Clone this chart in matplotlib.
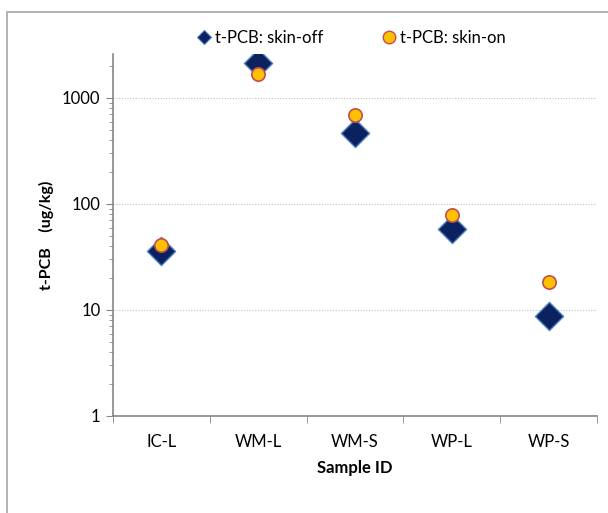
import matplotlib
matplotlib.use("Agg")
import matplotlib.pyplot as plt
from matplotlib.patches import Rectangle
from matplotlib.lines import Line2D
from matplotlib.ticker import LogLocator, NullFormatter, FixedLocator

categories = ["IC-L", "WM-L", "WM-S", "WP-L", "WP-S"]
skin_off = [36, 2140, 468, 58, 8.7]
skin_on = [41, 1700, 690, 78, 18.5]
ytick_vals = [1, 10, 100, 1000]
ytick_labels = ["1", "10", "100", "1000"]

plt.rcParams['font.family'] = ['Lato', 'DejaVu Sans']

fig = plt.figure(figsize=(6.08, 5.13), dpi=100)
fig.patches.append(Rectangle((7/608, -0.1), 1.2, 1 - 12/513 + 0.1, transform=fig.transFigure,
                             fill=False, edgecolor="#a6a6a6", linewidth=1.2))
ax = fig.add_axes([113/608, 1 - 416/513, (597 - 113)/608, (416 - 54)/513])

off_face, off_edge = "#0b2160", "#4a7ebb"
on_face, on_edge = "#ffc000", "#c0504d"

x = list(range(len(categories)))
ax.scatter(x, skin_off, marker="D", s=205, facecolor=off_face, edgecolor=off_edge,
           linewidth=1.0, zorder=3)
ax.scatter(x, skin_on, marker="o", s=92, facecolor=on_face, edgecolor=on_edge,
           linewidth=1.2, zorder=4)

ax.set_yscale("log")
ax.set_ylim(1, 2600)
ax.set_xlim(-0.5, len(categories) - 0.5)
ax.yaxis.set_major_locator(FixedLocator(ytick_vals))
ax.set_yticklabels(ytick_labels)
ax.yaxis.set_minor_locator(LogLocator(base=10, subs=range(2, 10)))
ax.yaxis.set_minor_formatter(NullFormatter())
ax.set_xticks(x)
ax.set_xticklabels(categories)
ax.xaxis.set_minor_locator(FixedLocator([i - 0.5 for i in range(len(categories) + 1)]))
ax.tick_params(axis="x", which="major", length=0, pad=13, labelsize=12)
ax.tick_params(axis="x", which="minor", length=5, color="#868686", direction="out")
ax.tick_params(axis="y", which="major", length=5, color="#868686", labelsize=12, pad=4)
ax.tick_params(axis="y", which="minor", length=3, color="#868686")

ax.grid(axis="y", which="major", linestyle=(0, (1, 1.5)), color="#bfbfbf", linewidth=0.8)
for s in ["top", "right"]:
    ax.spines[s].set_visible(False)
for s in ["left", "bottom"]:
    ax.spines[s].set_color("#868686")
    ax.spines[s].set_linewidth(1.2)

ax.set_xlabel("Sample ID", fontsize=12, fontweight="bold", labelpad=7)
ax.set_ylabel("t-PCB    (ug/kg)", fontsize=11.5, fontweight="bold", labelpad=6)

handles = [
    Line2D([], [], linestyle="none", marker="D", markersize=7, markerfacecolor=off_face,
           markeredgecolor=off_edge, markeredgewidth=0.8, label="t-PCB: skin-off"),
    Line2D([], [], linestyle="none", marker="o", markersize=9, markerfacecolor=on_face,
           markeredgecolor=on_edge, markeredgewidth=1.0, label="t-PCB: skin-on"),
]
fig.legend(handles=handles, loc="center", bbox_to_anchor=(350/608, 1 - 38/513), ncol=2,
           frameon=False, fontsize=12, handletextpad=0.1, handlelength=1.2,
           columnspacing=3.3)

fig.savefig("out.png", dpi=100)
